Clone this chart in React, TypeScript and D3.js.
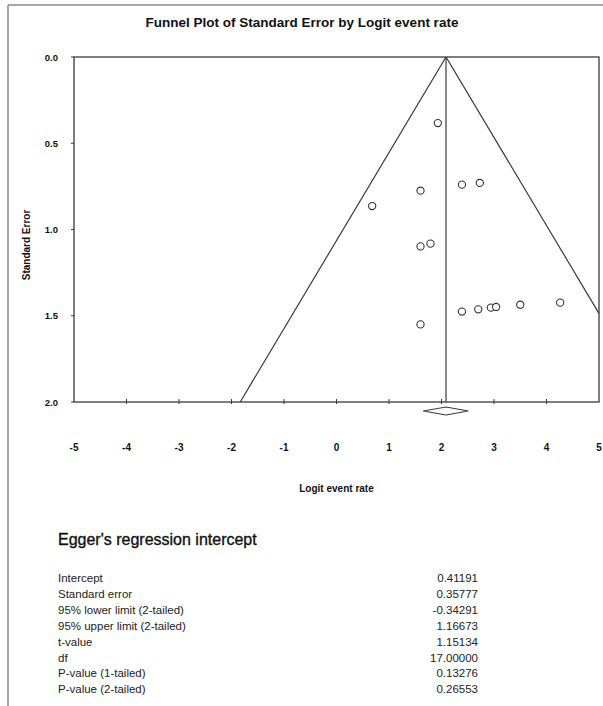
import React from "react";
import * as d3 from "d3";

const logitRates = [1.93, 1.60, 2.39, 2.73, 0.68, 1.60, 1.79, 2.39, 2.70, 2.94, 3.04, 3.50, 4.26, 1.60];
const standardErrors = [0.383, 0.775, 0.740, 0.730, 0.864, 1.098, 1.082, 1.476, 1.463, 1.453, 1.449, 1.436, 1.424, 1.550];
const combinedEstimate = 2.086;
const combinedLower = 1.65;
const combinedUpper = 2.51;
const xTicks = [-5, -4, -3, -2, -1, 0, 1, 2, 3, 4, 5];
const yTicks = [0, 0.5, 1.0, 1.5, 2.0];
const eggerLabels = [
  "Intercept",
  "Standard error",
  "95% lower limit (2-tailed)",
  "95% upper limit (2-tailed)",
  "t-value",
  "df",
  "P-value (1-tailed)",
  "P-value (2-tailed)",
];
const eggerValues = ["0.41191", "0.35777", "-0.34291", "1.16673", "1.15134", "17.00000", "0.13276", "0.26553"];

const W = 603;
const H = 706;
const plot = { left: 74, right: 599, top: 57, bottom: 402 };

export default function App() {
  const x = d3.scaleLinear().domain([-5, 5]).range([plot.left, plot.right]);
  const y = d3.scaleLinear().domain([0, 2]).range([plot.top, plot.bottom]);
  const line = d3.line<[number, number]>().x((d) => x(d[0])).y((d) => y(d[1]));
  const z = 1.96;
  const leftFunnel: [number, number][] = [
    [combinedEstimate, 0],
    [combinedEstimate - z * 2, 2],
  ];
  const rightFunnel: [number, number][] = [
    [combinedEstimate, 0],
    [combinedEstimate + z * 2, 2],
  ];
  const dy = plot.bottom + 9;
  const diamond = `M${x(combinedLower)},${dy} L${x(combinedEstimate)},${dy - 4} L${x(combinedUpper)},${dy} L${x(combinedEstimate)},${dy + 4} Z`;
  const stroke = "#3a3a3a";
  const font = "'Liberation Sans', Arial, sans-serif";

  return (
    <svg width={W} height={H} style={{ position: "absolute", left: 0, top: 0, background: "#fff" }} fontFamily={font}>
      <defs>
        <clipPath id="plotClip">
          <rect x={plot.left} y={plot.top} width={plot.right - plot.left} height={plot.bottom - plot.top} />
        </clipPath>
      </defs>
      <line x1={8} y1={5} x2={W} y2={5} stroke="#8a8a8a" strokeWidth={1.5} />
      <line x1={8} y1={5} x2={8} y2={H} stroke="#8a8a8a" strokeWidth={1.5} />

      <text x={302} y={27} textAnchor="middle" fontWeight="bold" fontSize={13.5} fill="#111">
        Funnel Plot of Standard Error by Logit event rate
      </text>

      <rect
        x={plot.left}
        y={plot.top}
        width={plot.right - plot.left}
        height={plot.bottom - plot.top}
        fill="none"
        stroke={stroke}
        strokeWidth={1.3}
      />

      {yTicks.map((t) => (
        <g key={"y" + t}>
          <line x1={plot.left - 3} x2={plot.left} y1={y(t)} y2={y(t)} stroke={stroke} />
          <text x={58} y={y(t) + 3.5} textAnchor="end" fontWeight="bold" fontSize={9.5} fill="#111">
            {t.toFixed(1)}
          </text>
        </g>
      ))}
      {xTicks.map((t) => (
        <g key={"x" + t}>
          {t > -5 && t < 5 && (
            <line x1={x(t)} x2={x(t)} y1={plot.bottom - 3} y2={plot.bottom + 2} stroke={stroke} />
          )}
          <text x={x(t)} y={451} textAnchor="middle" fontWeight="bold" fontSize={10} fill="#111">
            {t}
          </text>
        </g>
      ))}

      <text
        transform={`translate(30,${245}) rotate(-90)`}
        textAnchor="middle"
        fontWeight="bold"
        fontSize={10}
        fill="#111"
      >
        Standard Error
      </text>
      <text x={x(0)} y={492} textAnchor="middle" fontWeight="bold" fontSize={10} fill="#111">
        Logit event rate
      </text>

      <g clipPath="url(#plotClip)">
        <path d={line(leftFunnel) || ""} fill="none" stroke={stroke} strokeWidth={1.2} />
        <path d={line(rightFunnel) || ""} fill="none" stroke={stroke} strokeWidth={1.2} />
        <line
          x1={x(combinedEstimate)}
          x2={x(combinedEstimate)}
          y1={y(0)}
          y2={y(2)}
          stroke={stroke}
          strokeWidth={1.2}
        />
      </g>

      {logitRates.map((v, i) => (
        <circle key={i} cx={x(v)} cy={y(standardErrors[i])} r={3.6} fill="#fff" stroke="#333" strokeWidth={1.1} />
      ))}

      <path d={diamond} fill="#fff" stroke={stroke} strokeWidth={1.1} />

      <text x={58} y={545} fontSize={16} fill="#111" stroke="#111" strokeWidth={0.35}>
        Egger's regression intercept
      </text>
      {eggerLabels.map((l, i) => (
        <g key={l}>
          <text x={58} y={582 + i * 15.9} fontSize={11.5} fill="#222">
            {l}
          </text>
          <text x={478} y={582 + i * 15.9} fontSize={11.5} fill="#222" textAnchor="end">
            {eggerValues[i]}
          </text>
        </g>
      ))}
    </svg>
  );
}
